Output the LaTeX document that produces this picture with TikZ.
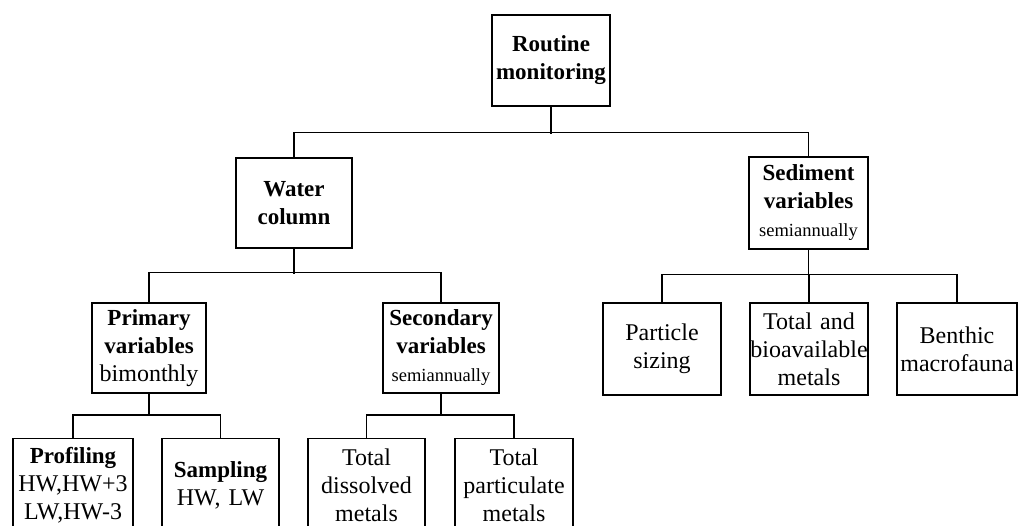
\documentclass[tikz,border=0pt]{standalone}
\usepackage{fontspec}
\setmainfont{Liberation Serif}
\usepackage{tikz}

\newcommand{\hd}[1]{{\fontsize{23}{28}\selectfont\bfseries #1}}
\newcommand{\sm}[1]{{\fontsize{18.5}{20}\selectfont #1}}

\begin{document}
\begin{tikzpicture}[x=1pt,y=-1pt,line width=1.4pt,
    box/.style={draw,inner xsep=0pt,inner ysep=0pt,align=center,
      font=\fontsize{24}{28}\selectfont},
    leaf/.style={box,anchor=north,minimum height=94}]
      \useasboundingbox (0,0) rectangle (1019,526);
      \clip (0,0) rectangle (1019,526);
      % top levels
      \node[box,text width=118,minimum height=91] (root) at (551,60.5) {\hd{Routine}\\\hd{monitoring}};
      \node[box,text width=116,minimum height=90] (water) at (294,203) {\hd{Water}\\\hd{column}};
      \node[box,text width=119,minimum height=92] (sed) at (808.5,203) {\hd{Sediment}\\\hd{variables}\\\sm{semiannually}};
      \node[box,text width=114,minimum height=90] (prim) at (149,348) {\hd{Primary}\\\hd{variables}\\bimonthly};
      \node[box,text width=116,minimum height=90] (sec) at (441,348) {\hd{Secondary}\\\hd{variables}\\\sm{semiannually}};
      \node[box,text width=118,minimum height=92] (part) at (662,349) {Particle\\sizing};
      \node[box,text width=118,minimum height=92] (total) at (809,349) {Total and\\bioavailable\\metals};
      \node[box,text width=120,minimum height=92] (benth) at (957,349) {Benthic\\macrofauna};
      % bottom row, cut off by the page
      \node[leaf,text width=120] (prof) at (73,438) {\hd{Profiling}\\HW,HW+3\\LW,HW-3};
      \node[leaf,text width=117] (samp) at (220.5,438) {\hd{Sampling}\\HW, LW};
      \node[leaf,text width=117] (diss) at (366.5,438) {Total\\dissolved\\metals};
      \node[leaf,text width=118] (partic) at (514,438) {Total\\particulate\\metals};
      % connectors
      \draw (root.south) -- ++(0,27);
      \draw (water.north) -- ++(0,-25) -| (sed.north);
      \draw (water.south) -- ++(0,25);
      \draw (prim.north) -- ++(0,-30) -| (sec.north);
      \draw (sed.south) -- ++(0,26);
      \draw (part.north) -- ++(0,-28) -| (benth.north);
      \draw (total.north) -- ++(0,-28);
      \draw (prim.south) -- ++(0,22);
      \draw (prof.north) -- ++(0,-23) -| (samp.north);
      \draw (sec.south) -- ++(0,22);
      \draw (diss.north) -- ++(0,-23) -| (partic.north);
    \end{tikzpicture}
\end{document}
